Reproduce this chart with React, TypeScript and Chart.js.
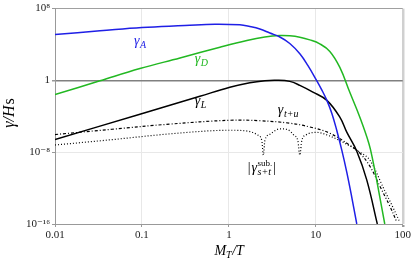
import React, { useEffect, useRef } from "react";
import { Chart, registerables } from "chart.js";

Chart.register(...registerables);

// ---- axis ticks ----
const xTickValues = [0.01, 0.1, 1, 10, 100];
const xTickLabels = ["0.01", "0.1", "1", "10", "100"];
const yTickValues = [1e-16, 1e-8, 1, 1e8];
const yTickLabels = ["10⁻¹⁶", "10⁻⁸", "1", "10⁸"];

// ---- series: gamma_A (blue) ----
const gammaA_x = [0.01, 0.0329, 0.1, 0.312, 0.69, 1.337, 1.742, 2.27, 2.96, 3.86, 5.02, 6.55, 8.09, 10.2, 11.7, 13.4, 15.3, 17.4, 19.9, 22.7, 25.9, 29.6];
const gammaA_y = [1.3e5, 3.3e5, 7.8e5, 1.3e6, 1.85e6, 1.55e6, 1e6, 5.3e5, 1.9e5, 6.8e4, 1.3e4, 930, 47, 1, 8.8e-2, 6e-3, 2.1e-4, 2.8e-6, 1.7e-8, 6e-11, 1e-13, 1e-16];

// ---- series: gamma_D (green) ----
const gammaD_x = [0.01, 0.0329, 0.0948, 0.274, 0.789, 1.61, 2.595, 3.86, 5.02, 6.55, 8.53, 11.1, 14.5, 18.9, 24.6, 32.1, 40.7, 45.2, 52.9, 62.1];
const gammaD_y = [2.6e-2, 0.9, 21, 316, 5e3, 2.8e4, 6.8e4, 1e5, 9.3e4, 6.5e4, 3.3e4, 1.2e4, 1.7e3, 28, 4.7e-2, 7.8e-5, 1e-7, 1.3e-9, 4.7e-13, 1e-16];

// ---- series: gamma_L (black) ----
const gammaL_x = [0.01, 0.0948, 0.464, 1.026, 1.742, 2.595, 3.5, 5.02, 6.55, 9.25, 13.4, 18.9, 22.7, 29.6, 38.6, 51];
const gammaL_y = [2.6e-7, 1.7e-4, 1.7e-2, 0.17, 0.55, 0.93, 1.05, 0.78, 0.28, 5e-2, 6e-3, 8e-5, 1.7e-6, 1.3e-8, 7.7e-12, 1e-16];

// ---- series: gamma_{t+u} (dash-dot) ----
const gammaTU_x = [0.01, 0.0452, 0.21, 1.026, 2.27, 5.02, 8.53, 14.5, 24.6, 32.1, 41.8, 54.4, 70.9, 85.3];
const gammaTU_y = [9.3e-7, 3.6e-6, 1.35e-5, 3.6e-5, 3.2e-5, 1.7e-5, 6.5e-6, 1.3e-6, 6e-8, 7.8e-9, 2.8e-10, 1.7e-12, 1e-14, 1.7e-16];

// ---- series: |gamma^sub_{s+t}| (dotted) ----
const gammaST_x = [0.01, 0.0452, 0.21, 1.026, 1.742, 2.153, 2.393, 2.49, 2.595, 2.96, 3.86, 4.77, 5.58, 6.21, 6.55, 6.9, 7.67, 10.26, 14.5, 24.6, 32.1, 41.8, 62.1, 76.7, 92.5];
const gammaST_y = [6.3e-8, 2.5e-7, 1.1e-6, 2.8e-6, 2e-6, 8e-7, 2e-7, 4.7e-9, 2e-7, 1e-6, 4e-6, 3.2e-6, 8e-7, 2e-7, 4.7e-9, 2e-7, 8e-7, 1.6e-6, 6.3e-7, 5e-8, 1e-8, 1.3e-9, 5e-13, 8e-15, 1.6e-16];

const SERIF = '"Liberation Serif", "DejaVu Serif", serif';

function pts(xs: number[], ys: number[]) {
  return xs.map((x, i) => ({ x, y: ys[i] }));
}

// curve labels: anchored in data coordinates
const curveLabels = [
  { main: "γ", sub: "A", sup: "", x: 0.081, y: 7.8e3, color: "#1f1fe6", bars: false },
  { main: "γ", sub: "D", sup: "", x: 0.406, y: 78, color: "#22b822", bars: false },
  { main: "γ", sub: "L", sup: "", x: 0.406, y: 1.7e-3, color: "#000000", bars: false },
  { main: "γ", sub: "t+u", sup: "", x: 3.66, y: 1.7e-4, color: "#000000", bars: false },
  { main: "γ", sub: "s+t", sup: "sub.", x: 1.65, y: 6e-11, color: "#000000", bars: true },
];

const textPlugin = {
  id: "textPlugin",
  afterDraw(chart: any) {
    const ctx = chart.ctx as CanvasRenderingContext2D;
    const xs = chart.scales.x;
    const ys = chart.scales.y;
    ctx.save();
    ctx.textBaseline = "alphabetic";
    ctx.textAlign = "left";
    for (const l of curveLabels) {
      let px = xs.getPixelForValue(l.x);
      const py = ys.getPixelForValue(l.y);
      ctx.fillStyle = l.color;
      if (l.bars) {
        ctx.font = `14px ${SERIF}`;
        ctx.fillText("|", px, py);
        px += ctx.measureText("|").width + 1;
      }
      ctx.font = `italic 14px ${SERIF}`;
      ctx.fillText(l.main, px, py);
      px += ctx.measureText(l.main).width + 0.5;
      let w = 0;
      if (l.sup) {
        ctx.font = `9px ${SERIF}`;
        ctx.fillText(l.sup, px, py - 6);
        w = Math.max(w, ctx.measureText(l.sup).width);
      }
      ctx.font = `italic 10px ${SERIF}`;
      ctx.fillText(l.sub, px, py + 3);
      w = Math.max(w, ctx.measureText(l.sub).width);
      px += w + 1;
      if (l.bars) {
        ctx.font = `14px ${SERIF}`;
        ctx.fillText("|", px, py);
      }
    }

    // x axis title: M_T / T
    ctx.fillStyle = "#000";
    const area = chart.chartArea;
    const cx = (area.left + area.right) / 2;
    const ty = 255;
    ctx.font = `italic 14px ${SERIF}`;
    const wM = ctx.measureText("M").width;
    const wSlash = ctx.measureText("/T").width;
    ctx.font = `italic 10px ${SERIF}`;
    const wT = ctx.measureText("T").width;
    let sx = cx - (wM + wT + wSlash) / 2;
    ctx.font = `italic 14px ${SERIF}`;
    ctx.fillText("M", sx, ty);
    sx += wM;
    ctx.font = `italic 10px ${SERIF}`;
    ctx.fillText("T", sx, ty + 3);
    sx += wT + 0.5;
    ctx.font = `italic 14px ${SERIF}`;
    ctx.fillText("/T", sx, ty);

    // y axis title: γ / H s (rotated)
    ctx.translate(14, 113);
    ctx.rotate(-Math.PI / 2);
    ctx.font = `italic 16px ${SERIF}`;
    const a = "γ/H";
    const wa = ctx.measureText(a).width;
    ctx.font = `16px ${SERIF}`;
    const wb = ctx.measureText("s").width;
    let yx = -(wa + wb + 1) / 2;
    ctx.font = `italic 16px ${SERIF}`;
    ctx.fillText(a, yx, 0);
    yx += wa + 1;
    ctx.font = `16px ${SERIF}`;
    ctx.fillText("s", yx, 0);
    ctx.restore();
  },
};

export default function App() {
  const ref = useRef<HTMLCanvasElement | null>(null);
  useEffect(() => {
    if (!ref.current) return;
    const chart = new Chart(ref.current, {
      type: "line",
      data: {
        datasets: [
          { data: pts(gammaA_x, gammaA_y), borderColor: "#1f1fe6", borderWidth: 1.5, tension: 0.4 },
          { data: pts(gammaD_x, gammaD_y), borderColor: "#22b822", borderWidth: 1.5, tension: 0.4 },
          { data: pts(gammaL_x, gammaL_y), borderColor: "#000000", borderWidth: 1.5, tension: 0.4 },
          { data: pts(gammaTU_x, gammaTU_y), borderColor: "#000000", borderWidth: 1.2, borderDash: [3, 2, 1, 2], tension: 0.4 },
          { data: pts(gammaST_x, gammaST_y), borderColor: "#000000", borderWidth: 1.2, borderDash: [1, 2], cubicInterpolationMode: "monotone" },
        ] as any,
      },
      options: {
        animation: false,
        responsive: false,
        maintainAspectRatio: false,
        parsing: false as any,
        layout: { padding: { top: 8, right: 10, left: 0, bottom: 0 } },
        plugins: { legend: { display: false }, tooltip: { enabled: false } },
        elements: {
          point: { radius: 0 },
          line: { fill: false },
        },
        scales: {
          x: {
            type: "logarithmic",
            min: 0.01,
            max: 100,
            afterBuildTicks: (s: any) => {
              s.ticks = xTickValues.map((v) => ({ value: v }));
            },
            afterFit: (s: any) => {
              s.height = 42;
            },
            ticks: {
              autoSkip: false,
              maxRotation: 0,
              padding: 2,
              color: "#222",
              font: { family: SERIF, size: 11 },
              callback: (_v: any, i: number) => xTickLabels[i],
            },
            grid: {
              color: (c: any) => (c.tick && c.tick.value === 100 ? "#d0d0d0" : "#e8e8e8"),
              lineWidth: (c: any) => (c.tick && c.tick.value === 100 ? 2.5 : 1),
              drawTicks: true,
              tickLength: 3,
              tickColor: "#999",
            },
            border: { display: true, color: "#999", width: 1 },
          },
          y: {
            type: "logarithmic",
            min: 1e-16,
            max: 1e8,
            afterBuildTicks: (s: any) => {
              s.ticks = yTickValues.map((v) => ({ value: v }));
            },
            afterFit: (s: any) => {
              s.width = 55;
            },
            ticks: {
              autoSkip: false,
              padding: 2,
              color: "#222",
              font: { family: SERIF, size: 11 },
              callback: (_v: any, i: number) => yTickLabels[i],
            },
            grid: {
              color: (c: any) =>
                c.tick && c.tick.value === 1 ? "#808080" : c.tick && c.tick.value === 1e8 ? "#a0a0a0" : "#e8e8e8",
              lineWidth: (c: any) => (c.tick && c.tick.value === 1 ? 1.5 : 1),
              drawTicks: true,
              tickLength: 3,
              tickColor: "#999",
            },
            border: { display: true, color: "#999", width: 1 },
          },
        },
      },
      plugins: [textPlugin],
    } as any);
    return () => chart.destroy();
  }, []);
  return (
    <div style={{ position: "absolute", left: 0, top: 0, width: 413, height: 266, background: "#fff" }}>
      <canvas ref={ref} width={413} height={266} style={{ display: "block" }} />
    </div>
  );
}
